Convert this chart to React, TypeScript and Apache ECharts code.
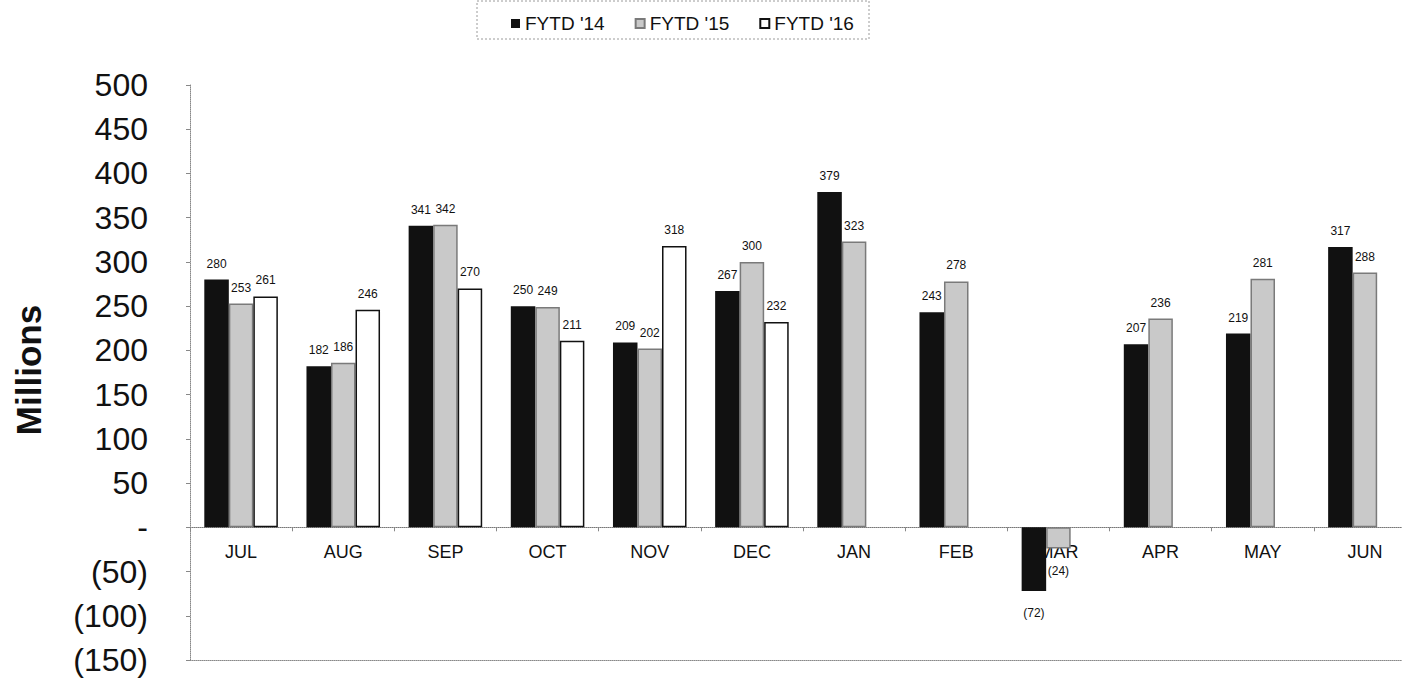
import React, { useEffect, useRef } from "react";
import * as echarts from "echarts";

const categories = ["JUL", "AUG", "SEP", "OCT", "NOV", "DEC", "JAN", "FEB", "MAR", "APR", "MAY", "JUN"];
const fytd14 = [280, 182, 341, 250, 209, 267, 379, 243, -72, 207, 219, 317];
const fytd15 = [253, 186, 342, 249, 202, 300, 323, 278, -24, 236, 281, 288];
const fytd16 = [261, 246, 270, 211, 318, 232, null, null, null, null, null, null];
const seriesNames = ["FYTD '14", "FYTD '15", "FYTD '16"];
const yMin = -150;
const yMax = 500;
const yStep = 50;

const FONT = "'Liberation Sans', Arial, sans-serif";

const fmt = (v: number) => (v < 0 ? `(${-v})` : v === 0 ? "-" : `${v}`);

function toData(arr: (number | null)[]) {
  return arr.map((v) =>
    v === null
      ? null
      : {
          value: v,
          label: v < 0 ? { position: "bottom", distance: 16 } : { position: "top", distance: 10 },
        }
  );
}

export default function App() {
  const ref = useRef<HTMLDivElement>(null);
  useEffect(() => {
    if (!ref.current) return;
    const chart = echarts.init(ref.current, null, { renderer: "svg" });
    const labelCfg = {
      show: true,
      fontSize: 12,
      fontFamily: FONT,
      color: "#111",
      formatter: (p: any) => fmt(p.value),
    };
    const styles = [
      { color: "#111111", borderColor: "#111111", borderWidth: 0 },
      { color: "#c9c9c9", borderColor: "#7a7a7a", borderWidth: 1.5 },
      { color: "#ffffff", borderColor: "#111111", borderWidth: 1.5 },
    ];
    const arrays = [fytd14, fytd15, fytd16];
    const H = 678;
    const gridTop = 85;
    const gridBottom = 18;
    const plotH = H - gridTop - gridBottom;
    // distance from the plot's bottom edge up to the zero line
    const zeroOffset = (plotH * (0 - yMin)) / (yMax - yMin);
    const gridBox = {
      left: 190,
      right: 4,
      top: gridTop,
      bottom: gridBottom,
      containLabel: false,
      outerBoundsMode: "none",
    };
    chart.setOption({
      animation: false,
      backgroundColor: "#ffffff",
      textStyle: { fontFamily: FONT },
      legend: {
        data: seriesNames,
        left: 511,
        top: 14,
        padding: 0,
        itemGap: 30,
        itemWidth: 9,
        itemHeight: 9,
        textStyle: { fontSize: 19, color: "#111", fontFamily: FONT },
        icon: "rect",
      },
      graphic: [
        {
          type: "rect",
          shape: { x: 477, y: 1, width: 392, height: 38 },
          style: { fill: "none", stroke: "#9a9a9a", lineWidth: 1, lineDash: [2, 2] },
          silent: true,
        },
        {
          type: "text",
          x: 28,
          y: 370,
          rotation: Math.PI / 2,
          style: {
            text: "Millions",
            fontSize: 35,
            fontWeight: "bold",
            fontFamily: FONT,
            fill: "#111",
            align: "center",
            verticalAlign: "middle",
          },
        },
      ],
      grid: [gridBox, { ...gridBox }],
      xAxis: [
        {
          type: "category",
          gridIndex: 0,
          data: categories,
          position: "bottom",
          axisLine: { onZero: false, lineStyle: { color: "#888", type: "dotted", width: 1 } },
          axisTick: { show: false },
          axisLabel: { show: false },
        },
        {
          type: "category",
          gridIndex: 1,
          data: categories,
          position: "bottom",
          offset: -zeroOffset,
          axisLine: { onZero: false, lineStyle: { color: "#777", type: "dotted", width: 1 } },
          axisTick: { show: true, alignWithLabel: false, length: 4, lineStyle: { color: "#888" } },
          axisLabel: { color: "#111", fontSize: 18, fontFamily: FONT, margin: 16 },
        },
      ],
      yAxis: [
        {
          type: "value",
          gridIndex: 0,
          min: yMin,
          max: yMax,
          interval: yStep,
          axisLine: { show: true, lineStyle: { color: "#888", type: "dotted", width: 1 } },
          axisTick: { show: true, inside: false, length: 4, lineStyle: { color: "#888" } },
          splitLine: { show: false },
          axisLabel: {
            color: "#111",
            fontSize: 32,
            fontFamily: FONT,
            margin: 42,
            formatter: (v: number) => fmt(v),
          },
        },
        {
          type: "value",
          gridIndex: 1,
          min: yMin,
          max: yMax,
          interval: yStep,
          show: false,
        },
      ],
      series: arrays.map((arr, i) => ({
        name: seriesNames[i],
        type: "bar",
        xAxisIndex: 0,
        yAxisIndex: 0,
        data: toData(arr),
        barGap: "0%",
        barCategoryGap: "28%",
        itemStyle: styles[i],
        label: labelCfg,
      })),
    });
    return () => chart.dispose();
  }, []);
  return (
    <div
      style={{
        position: "fixed",
        left: 0,
        top: 0,
        width: 1402,
        height: 678,
        overflow: "hidden",
        background: "#fff",
      }}
    >
      <div ref={ref} style={{ width: 1420, height: 678 }} />
    </div>
  );
}
